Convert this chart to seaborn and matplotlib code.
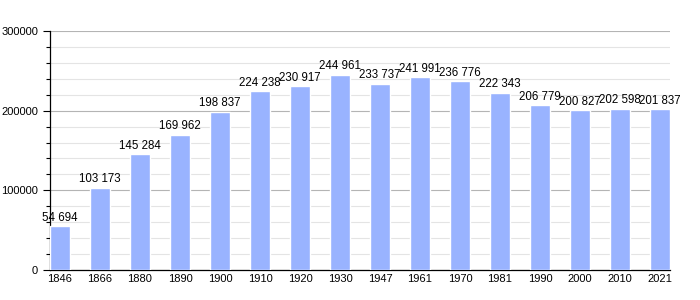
import matplotlib
matplotlib.use("Agg")
import matplotlib.pyplot as plt
import seaborn as sns
import pandas as pd
from matplotlib.ticker import MultipleLocator

years = ["1846", "1866", "1880", "1890", "1900", "1910", "1920", "1930", "1947",
         "1961", "1970", "1981", "1990", "2000", "2010", "2021"]
population = [54694, 103173, 145284, 169962, 198837, 224238, 230917, 244961, 233737,
              241991, 236776, 222343, 206779, 200827, 202598, 201837]

sns.set_style("white")
plt.rcParams['font.family'] = ['Liberation Sans', 'DejaVu Sans']
plt.rcParams['text.color'] = 'black'
plt.rcParams['xtick.color'] = 'black'
plt.rcParams['ytick.color'] = 'black'

df = pd.DataFrame({"year": years, "pop": population})
fig = plt.figure(figsize=(7, 3), dpi=100)
ax = fig.add_axes([50/700, 30/300, 620/700, 239/300])

sns.barplot(data=df, x="year", y="pop", color="#99b3ff", saturation=1, width=0.5, ax=ax, zorder=3)

ax.set_xlim(-0.25, 15.25)
ax.set_ylim(0, 300000)
ax.yaxis.set_major_locator(MultipleLocator(100000))
ax.yaxis.set_minor_locator(MultipleLocator(20000))
ax.grid(which="major", axis="y", color="#b4b4b4", linewidth=0.8, zorder=0)
ax.grid(which="minor", axis="y", color="#e4e4e4", linewidth=0.8, zorder=0)
ax.set_axisbelow(True)
ax.tick_params(axis="y", which="major", length=5, width=0.8, labelsize=8, labelcolor="black", left=True)
ax.tick_params(axis="y", which="minor", length=3, width=0.8, left=True)
ax.tick_params(axis="x", length=0, labelsize=8, labelcolor="black", pad=3)
ax.set_xlabel("")
ax.set_ylabel("")
for s in ["top", "right"]:
    ax.spines[s].set_visible(False)
for s in ["left", "bottom"]:
    ax.spines[s].set_color("black")
    ax.spines[s].set_linewidth(0.9)

for i, v in enumerate(population):
    label = f"{v:,}".replace(",", " ")
    ax.text(i, v + 3000, label, ha="center", va="bottom", fontsize=8.3, color="black", zorder=4)

fig.savefig("out.png", dpi=100)
